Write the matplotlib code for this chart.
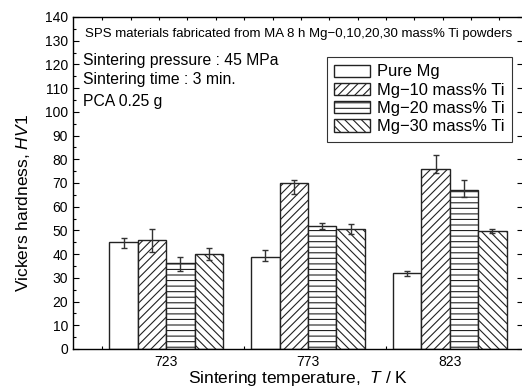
import matplotlib
matplotlib.use("Agg")
import matplotlib.pyplot as plt
import numpy as np
from matplotlib.ticker import MultipleLocator, FixedLocator

plt.rcParams["font.family"] = ["Liberation Sans", "DejaVu Sans"]
plt.rcParams["mathtext.fontset"] = "custom"
plt.rcParams["mathtext.rm"] = "Liberation Sans"
plt.rcParams["mathtext.it"] = "Liberation Sans:italic"
plt.rcParams["hatch.linewidth"] = 0.8

# data
temperatures = ["723", "773", "823"]
series = ["Pure Mg", "Mg\u221210 mass% Ti", "Mg\u221220 mass% Ti", "Mg\u221230 mass% Ti"]
hardness = [
    [45.0, 38.9, 31.9],   # Pure Mg
    [46.0, 69.9, 75.9],   # Mg-10
    [36.1, 52.0, 66.9],   # Mg-20
    [39.9, 50.7, 49.9],   # Mg-30
]
err_low = [
    [2.3, 1.8, 1.1],
    [5.2, 4.5, 1.8],
    [3.1, 1.5, 2.9],
    [2.4, 2.2, 1.1],
]
err_high = [
    [1.9, 2.9, 1.1],
    [4.5, 1.2, 5.9],
    [2.6, 1.3, 4.5],
    [2.6, 2.1, 0.7],
]
hatches = ["", "////", "---", "\\\\\\\\"]

fig = plt.figure(figsize=(5.22, 3.87), dpi=100)
ax = fig.add_axes([0.1398, 0.0982, 0.8622, 0.858])

x = np.arange(len(temperatures))
width = 0.2
for i, name in enumerate(series):
    pos = x + (i - 1.5) * width
    ax.bar(pos, hardness[i], width, color="white", edgecolor="#222222",
           hatch=hatches[i], linewidth=1.0, label=name, zorder=2)
    ax.errorbar(pos, hardness[i], yerr=[err_low[i], err_high[i]], fmt="none",
                ecolor="#333333", elinewidth=1.0, capsize=2.5, capthick=1.0, zorder=3)

ax.set_xlim(-0.657, 2.516)
ax.set_ylim(0, 140)
ax.set_xticks(x)
ax.set_xticklabels(temperatures)
ax.xaxis.set_minor_locator(FixedLocator(np.arange(-0.45, 2.5, 0.2)))
ax.yaxis.set_major_locator(MultipleLocator(10))
ax.yaxis.set_minor_locator(MultipleLocator(5))
ax.tick_params(axis="both", which="both", direction="in", top=True, right=True,
               labelsize=10, width=0.8)
ax.tick_params(axis="x", which="major", length=0, pad=4)
ax.tick_params(axis="y", which="major", length=4)
ax.tick_params(which="minor", length=2.5)
ax.tick_params(axis="y", which="minor", right=False)
for s in ax.spines.values():
    s.set_linewidth(1.0)

ax.set_xlabel("Sintering temperature,  $\\it{T}$ / K", fontsize=12.5, labelpad=0)
ax.set_ylabel("Vickers hardness, $\\it{HV}$1", fontsize=12.5)
ax.yaxis.set_label_coords(-0.092, 0.44)

ax.text(0.027, 0.950, "SPS materials fabricated from MA 8 h Mg\u22120,10,20,30 mass% Ti powders",
        transform=ax.transAxes, fontsize=9.5, va="center", ha="left")
ax.text(0.022, 0.870, "Sintering pressure : 45 MPa", transform=ax.transAxes,
        fontsize=11.3, va="center", ha="left")
ax.text(0.022, 0.812, "Sintering time : 3 min.", transform=ax.transAxes,
        fontsize=11.3, va="center", ha="left")
ax.text(0.022, 0.744, "PCA 0.25 g", transform=ax.transAxes,
        fontsize=11.3, va="center", ha="left")

leg = ax.legend(loc="upper right", bbox_to_anchor=(0.9755, 0.8795), borderaxespad=0,
                fontsize=11.9, handlelength=2.2, handleheight=0.75, labelspacing=0.2,
                handletextpad=0.4, borderpad=0.45, frameon=True, fancybox=False)
leg.get_frame().set_edgecolor("black")
leg.get_frame().set_linewidth(0.8)

fig.savefig("out.png", dpi=100)
